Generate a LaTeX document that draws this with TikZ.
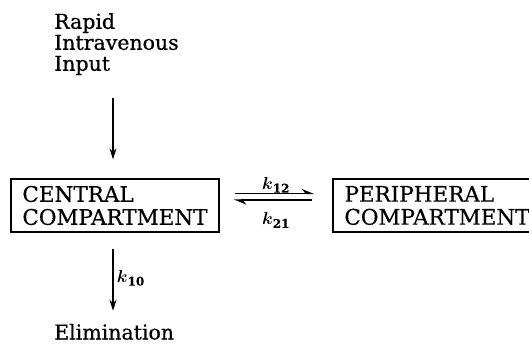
\documentclass[tikz,border=0pt]{standalone}
\usepackage{amsmath}
\usepackage{fontspec}
\setmainfont{DejaVu Serif}[FakeBold=0.5]
\usetikzlibrary{arrows.meta}
\begin{document}
\begin{tikzpicture}[x=1pt, y=-1pt,
    comp/.style={draw, line width=1.3pt, align=left, minimum width=208pt, minimum height=53pt,
        inner sep=0pt, font=\fontsize{21.5}{23}\selectfont},
    lbl/.style={align=left, inner sep=0pt, font=\fontsize{20.5}{21}\selectfont},
    rate/.style={font=\fontsize{17}{19}\selectfont},
    flow/.style={-{Stealth[length=11pt,width=7pt]}, line width=1.2pt},
    swap/.style={-{Stealth[left,length=11pt,width=9pt]}, line width=1.2pt}]
    \useasboundingbox (0,0) rectangle (529,344);
    \node[lbl, anchor=north west] (input) at (54,13) {Rapid\\Intravenous\\Input};
    \node[comp] (central) at (115,205.5) {CENTRAL\\COMPARTMENT};
    \node[comp] (periph) at (437,205.5) {PERIPHERAL\\COMPARTMENT};
    \node[lbl, anchor=base west] (elim) at (54,339.5) {Elimination};
    % input and elimination
    \draw[flow, shorten <=23pt, shorten >=19pt] ([xshift=-2pt]input.south -| central.north) -- ([xshift=-2pt]central.north);
    \draw[flow, shorten <=16pt, shorten >=13pt] ([xshift=-2pt]central.south) -- ([xshift=-2pt]central.south |- elim.north)
        node[rate, midway, right] {$\boldsymbol{k}_{\mathbf{10}}$};
    % exchange
    \draw[swap, shorten <=15pt, shorten >=18pt] ([yshift=12pt]central.east) -- ([yshift=12pt]periph.west)
        node[rate, midway, above=-3pt] {$\boldsymbol{k}_{\mathbf{12}}$};
    \draw[swap, shorten <=20pt, shorten >=14pt] ([yshift=5.5pt]periph.west) -- ([yshift=5.5pt]central.east)
        node[rate, midway, below=9pt] {$\boldsymbol{k}_{\mathbf{21}}$};
\end{tikzpicture}
\end{document}
